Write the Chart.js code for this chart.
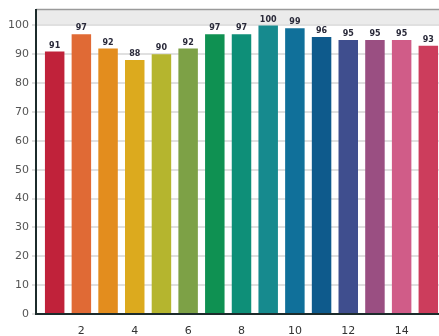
<!DOCTYPE html>
<html>
<head>
<meta charset="utf-8">
<script src="https://cdn.jsdelivr.net/npm/chart.js@4"></script>
<style>
  html, body { margin: 0; padding: 0; background: #fff; }
  #wrap { width: 439px; height: 336px; }
</style>
</head>
<body>
<div id="wrap"><canvas id="myChart" width="439" height="336"></canvas></div>
<script>
'use strict'
const categories = [1, 2, 3, 4, 5, 6, 7, 8, 9, 10, 11, 12, 13, 14, 15];
const scores = [91, 97, 92, 88, 90, 92, 97, 97, 100, 99, 96, 95, 95, 95, 93];
const yTicks = [0, 10, 20, 30, 40, 50, 60, 70, 80, 90, 100];
const xTicks = [2, 4, 6, 8, 10, 12, 14];
const barColors = [
  '#c0223a', '#e06a35', '#e38d1e', '#dcaa1e', '#b5b52e',
  '#7da146', '#0f9152', '#0e8f78', '#168a8e', '#10709a',
  '#0e5a8c', '#3f4e8e', '#9a4f82', '#d05c88', '#cc3d5c'
];

let points = [];
for (let i = 0; i < categories.length; i++) {
  points.push({ x: categories[i], y: scores[i] });
}

// grey band above 100 + top border
const bandPlugin = {
  id: 'bands',
  beforeDraw(chart) {
    const ctx = chart.ctx;
    const area = chart.chartArea;
    const y = chart.scales.y;
    ctx.save();
    ctx.fillStyle = '#ebebeb';
    ctx.fillRect(area.left, area.top, area.right - area.left, y.getPixelForValue(100) - area.top);
    ctx.strokeStyle = '#9a9a9a';
    ctx.lineWidth = 1.5;
    ctx.beginPath();
    ctx.moveTo(area.left, area.top);
    ctx.lineTo(area.right, area.top);
    ctx.stroke();
    ctx.restore();
  }
};

// value labels over bars
const valuePlugin = {
  id: 'values',
  afterDatasetsDraw(chart) {
    const ctx = chart.ctx;
    const meta = chart.getDatasetMeta(0);
    ctx.save();
    ctx.font = 'bold 8px "DejaVu Sans", sans-serif';
    ctx.fillStyle = '#2a2a3a';
    ctx.textAlign = 'center';
    ctx.textBaseline = 'bottom';
    meta.data.forEach(function (bar, i) {
      ctx.fillText(scores[i], bar.x, bar.y - 2);
    });
    ctx.restore();
  }
};

const ctx = document.getElementById('myChart').getContext('2d');
const myChart = new Chart(ctx, {
  type: 'bar',
  data: {
    datasets: [{
      data: points,
      backgroundColor: barColors,
      borderWidth: 0,
      categoryPercentage: 1,
      barPercentage: 0.73
    }]
  },
  options: {
    responsive: false,
    animation: false,
    layout: { padding: { top: 7, right: 0, bottom: 0, left: 0 } },
    plugins: {
      legend: { display: false },
      tooltip: { enabled: false }
    },
    scales: {
      x: {
        type: 'linear',
        offset: false,
        min: 0.3,
        max: 15.4,
        afterBuildTicks: function (axis) {
          axis.ticks = xTicks.map(function (v) { return { value: v }; });
        },
        afterFit: function (axis) { axis.height = 22; },
        grid: { display: false },
        border: { display: true, color: '#1c2b2b', width: 2 },
        ticks: {
          color: '#333',
          font: { family: 'DejaVu Sans', size: 11 },
          padding: 3,
          maxRotation: 0,
          autoSkip: false
        }
      },
      y: {
        min: 0,
        max: 105.5,
        afterBuildTicks: function (axis) {
          axis.ticks = yTicks.map(function (v) { return { value: v }; });
        },
        afterFit: function (axis) { axis.width = 36; },
        grid: { color: '#e0e0e0', lineWidth: 2, drawTicks: true, tickLength: 4 },
        border: { display: true, color: '#1c2b2b', width: 2 },
        ticks: {
          color: '#555',
          font: { family: 'DejaVu Sans', size: 11 },
          padding: 3
        }
      }
    }
  },
  plugins: [bandPlugin, valuePlugin]
});
</script>
</body>
</html>
